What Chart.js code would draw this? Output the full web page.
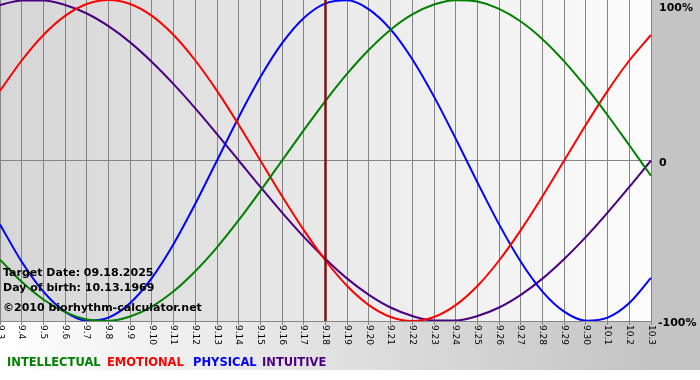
<!DOCTYPE html>
<html>
<head>
<meta charset="utf-8">
<script src="https://cdn.jsdelivr.net/npm/chart.js@4/dist/chart.umd.min.js"></script>
<style>
  html, body { margin: 0; padding: 0; background: #fff; }
  #wrap { width: 700px; height: 380px; position: relative; }
</style>
</head>
<body>
<div id="wrap"><canvas id="bioChart" width="700" height="380"></canvas></div>
<script>
// days shown on the x axis
const dayLabels = ['9.3','9.4','9.5','9.6','9.7','9.8','9.9','9.10','9.11','9.12','9.13','9.14','9.15','9.16','9.17',
  '9.18','9.19','9.20','9.21','9.22','9.23','9.24','9.25','9.26','9.27','9.28','9.29','9.30','10.1','10.2','10.3'];

// cycle values per day, -1 .. 1
const intellectual = [-0.618,-0.756,-0.866,-0.945,-0.990,-0.999,-0.972,-0.910,-0.815,-0.690,-0.541,-0.372,-0.189,0.000,0.189,
  0.372,0.541,0.690,0.815,0.910,0.972,0.999,0.990,0.945,0.866,0.756,0.618,0.458,0.282,0.095,-0.095];
const emotional = [0.434,0.623,0.782,0.901,0.975,1.000,0.975,0.901,0.782,0.623,0.434,0.223,0.000,-0.223,-0.434,
  -0.623,-0.782,-0.901,-0.975,-1.000,-0.975,-0.901,-0.782,-0.623,-0.434,-0.223,0.000,0.223,0.434,0.623,0.782];
const physical = [-0.398,-0.631,-0.817,-0.942,-0.998,-0.979,-0.888,-0.731,-0.520,-0.270,0.000,0.270,0.520,0.731,0.888,
  0.979,0.998,0.942,0.817,0.631,0.398,0.136,-0.136,-0.398,-0.631,-0.817,-0.942,-0.998,-0.979,-0.888,-0.731];
const intuitive = [0.969,0.997,0.997,0.969,0.916,0.837,0.736,0.614,0.476,0.325,0.165,0.000,-0.165,-0.325,-0.476,
  -0.614,-0.736,-0.837,-0.916,-0.969,-0.997,-0.997,-0.969,-0.916,-0.837,-0.736,-0.614,-0.476,-0.325,-0.165,0.000];

const seriesNames = ['INTELLECTUAL', 'EMOTIONAL', 'PHYSICAL', 'INTUITIVE'];
const seriesColors = ['#008000', '#ff0000', '#0000ff', '#4b0082'];
const yTicks = [{ v: 1, t: '100%' }, { v: 0, t: '0' }, { v: -1, t: '-100%' }];
const targetDay = '9.18';
const infoLines = ['Target Date: 09.18.2025', 'Day of birth: 10.13.1969', '\u00a92010 biorhythm-calculator.net'];

const BOLD = 'bold 11px "DejaVu Sans", Verdana, sans-serif';
const legendX = [7, 107, 193, 262];

// backgrounds behind the plot
const backdrop = {
    id: 'backdrop',
    beforeDraw(chart) {
        const { ctx, chartArea: a } = chart;
        ctx.save();
        let g = ctx.createLinearGradient(0, 0, 700, 0);
        g.addColorStop(0, '#ffffff'); g.addColorStop(0.1, '#f8f8f8'); g.addColorStop(1, '#c0c0c0');
        ctx.fillStyle = g;
        ctx.fillRect(0, 0, 700, 370);
        ctx.fillStyle = '#c4c4c4';
        ctx.fillRect(a.right, 0, 700 - a.right, 370);
        g = ctx.createLinearGradient(a.left, 0, a.right, 0);
        g.addColorStop(0, '#d6d6d6'); g.addColorStop(1, '#fcfcfc');
        ctx.fillStyle = g;
        ctx.fillRect(a.left, a.top, a.right - a.left, a.bottom - a.top);
        ctx.restore();
    }
};

// rotated date labels, right side percent labels, target line, texts, legend
const overlay = {
    id: 'overlay',
    afterDatasetsDraw(chart) {
        const { ctx, chartArea: a, scales: { x, y } } = chart;
        ctx.save();
        // target day line
        const tx = x.getPixelForValue(dayLabels.indexOf(targetDay));
        ctx.strokeStyle = '#7a1414'; ctx.lineWidth = 2.5;
        ctx.beginPath(); ctx.moveTo(tx, a.top); ctx.lineTo(tx, a.bottom); ctx.stroke();

        // date labels, reading top to bottom
        ctx.fillStyle = '#000';
        ctx.font = '9px "DejaVu Sans", Verdana, sans-serif';
        ctx.textAlign = 'left'; ctx.textBaseline = 'middle';
        dayLabels.forEach((d, i) => {
            ctx.save();
            ctx.translate(x.getPixelForValue(i), a.bottom + 4);
            ctx.rotate(Math.PI / 2);
            ctx.fillText(d, 0, 0);
            ctx.restore();
        });

        // percent labels
        ctx.font = BOLD; ctx.textBaseline = 'alphabetic';
        yTicks.forEach(k => {
            const py = Math.max(y.getPixelForValue(k.v) + 5, 11);
            ctx.fillText(k.t, k.v < 0 ? a.right + 7 : a.right + 8, py);
        });

        // info text
        ctx.fillText(infoLines[0], 3, 276);
        ctx.fillText(infoLines[1], 3, 291);
        ctx.fillText(infoLines[2], 3, 311);

        // legend
        ctx.font = 'bold 11.5px "DejaVu Sans", Verdana, sans-serif';
        seriesNames.forEach((n, i) => {
            ctx.fillStyle = seriesColors[i];
            ctx.fillText(n, legendX[i], 366);
        });
        ctx.restore();
    }
};

const datasetValues = [intellectual, emotional, physical, intuitive];

new Chart(document.getElementById('bioChart'), {
    type: 'line',
    data: {
        labels: dayLabels,
        datasets: seriesNames.map((n, i) => ({
            label: n, data: datasetValues[i],
            borderColor: seriesColors[i], borderWidth: 2,
            pointRadius: 0, cubicInterpolationMode: 'monotone', fill: false
        }))
    },
    options: {
        responsive: false, animation: false, devicePixelRatio: 1,
        layout: { padding: { left: 0, right: 49, top: 0, bottom: 55 } },
        plugins: { legend: { display: false }, tooltip: { enabled: false } },
        scales: {
            x: {
                offset: false,
                grid: { color: '#858585', lineWidth: 1, drawTicks: true, tickLength: 4 },
                border: { color: '#858585' },
                ticks: { display: false, autoSkip: false }
            },
            y: {
                min: -1, max: 1,
                ticks: { display: false, stepSize: 1 },
                grid: { color: c => c.tick.value === 0 ? '#858585' : 'rgba(0,0,0,0)', drawTicks: false },
                border: { display: false }
            }
        }
    },
    plugins: [backdrop, overlay]
});
</script>
</body>
</html>
